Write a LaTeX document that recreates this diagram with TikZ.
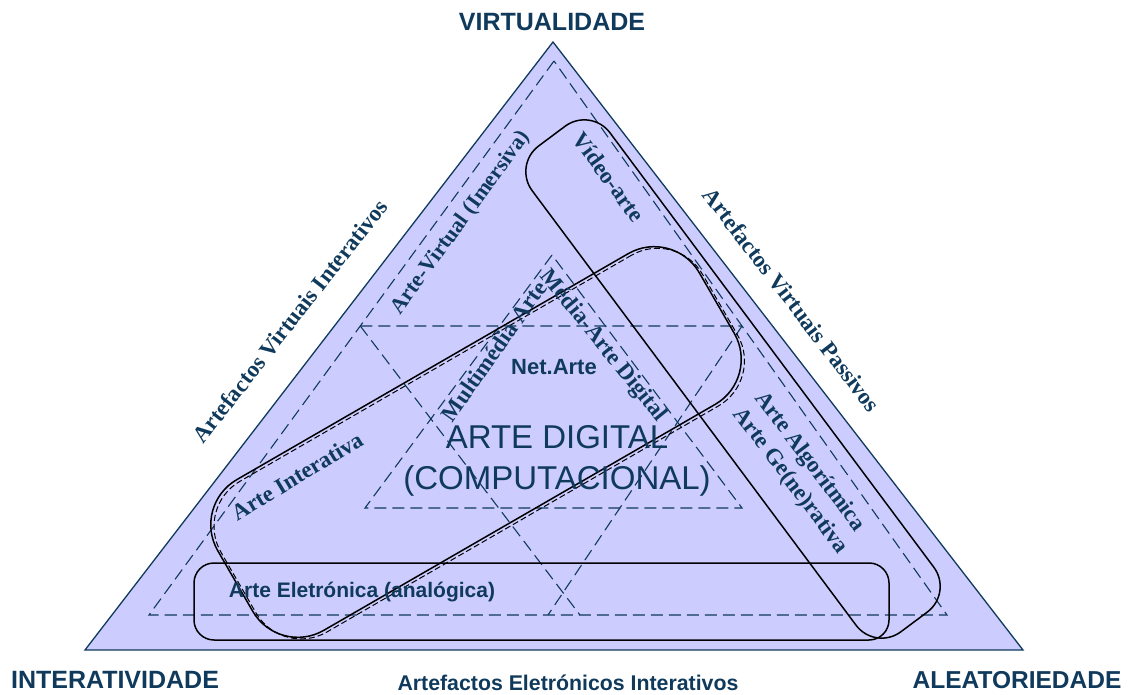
\documentclass[tikz,border=0pt]{standalone}
\usepackage{fontspec}
\setmainfont{Liberation Serif}
\setsansfont{Liberation Sans}
\usetikzlibrary{calc}
\definecolor{navy}{RGB}{16,58,92}
\definecolor{lavender}{RGB}{204,204,255}
\newcommand{\zonew}{1.1pt}
\newcommand{\blobw}{1.5pt}

\begin{document}
\begin{tikzpicture}[x=1pt,y=-1pt,
    zone/.style={draw=navy, line width=\zonew, dash pattern=on 12pt off 6pt},
    blob/.style={draw=black, line width=\blobw, rounded corners=#1, inner sep=0pt},
    shade/.style={draw=black, line width=1pt, dash pattern=on 6pt off 3pt, rounded corners=#1, inner sep=0pt},
    pole/.style={text=navy, font=\sffamily\bfseries\fontsize{25}{25}\selectfont},
    side/.style={text=navy, font=\rmfamily\bfseries\fontsize{23}{23}\selectfont},
    kind/.style={text=navy, font=\rmfamily\bfseries\fontsize{23}{27}\selectfont},
    core/.style={text=navy, font=\sffamily\fontsize{33}{41}\selectfont, align=center}]
                %\draw[help lines] (0,0) grid[step=50] (1128,695);
                \useasboundingbox (0,0) rectangle (1128,695);
                % the big triangle
                \coordinate (vir) at (553,42);
                \coordinate (int) at (85,650);
                \coordinate (ale) at (1023,650);
                \filldraw[fill=lavender, draw=navy, line width=1.3pt] (vir) -- (int) -- (ale) -- cycle;
                % dashed zones
                \coordinate (dv) at (554,61);
                \coordinate (di) at (149,615);
                \coordinate (da) at (947,615);
                \draw[zone] (dv) -- (di) -- (da) -- cycle;
                \coordinate (hl) at (intersection of dv--di and 0,326--1128,326);
                \coordinate (hr) at (intersection of dv--da and 0,326--1128,326);
                \draw[zone] (hl) -- (hr);
                \draw[zone] (hl) -- (580,615);
                \draw[zone] (hr) -- (548,615);
                \coordinate (tv) at (552,255);
                \coordinate (tl) at (365,508);
                \coordinate (tr) at (742,508);
                \draw[zone] (tv) -- (tl) -- (tr) -- cycle;
                % rounded groups
                \node[blob=20pt, minimum width=695pt, minimum height=77pt] (elet) at (541.5,601.5) {};
                \node[blob=32pt, minimum width=606pt, minimum height=97pt, rotate=-53.3] (algo) at (733,379) {};
                \node[shade=52pt, minimum width=556pt, minimum height=174pt, rotate=30, xshift=2pt, yshift=-3pt] (intersh) at (476,442) {};
                \node[blob=52pt, minimum width=556pt, minimum height=174pt, rotate=30] (inter) at (476,442) {};
                % poles
                \node[pole] (lvir) at (552,22) {VIRTUALIDADE};
                \node[pole] (lint) at (115,680) {INTERATIVIDADE};
                \node[pole, font=\sffamily\bfseries\fontsize{24.5}{25}\selectfont] (lale) at (1017,680) {ALEATORIEDADE};
                % sides
                \node[side, rotate=52] (sint) at (290,321) {Artefactos Virtuais Interativos};
                \node[side, rotate=-52.5] (spas) at (792,300) {Artefactos Virtuais Passivos};
                \node[text=navy, font=\sffamily\bfseries\fontsize{21.3}{22}\selectfont] (sele) at (568,683) {Artefactos Eletrónicos Interativos};
                % kinds of art
                \node[kind, font=\rmfamily\bfseries\fontsize{22}{22}\selectfont, rotate=54] (kvir) at (461,223) {Arte-Virtual (Imersiva)};
                \node[kind, rotate=-54] (kvid) at (609,177) {Vídeo-arte};
                \node[kind, rotate=31] (kint) at (297,476) {Arte Interativa};
                \node[kind, rotate=55] (kmul) at (494,351) {Multimédia Arte};
                \node[kind, rotate=-51] (kmed) at (603,346) {Média-Arte Digital};
                \node[kind, rotate=-53, align=left] (kalg) at (801,473) {Arte Algorítmica\\Arte Ge(ne)rativa};
                \node[text=navy, font=\sffamily\bfseries\fontsize{22}{22}\selectfont] (knet) at (554,367) {Net.Arte};
                \node[core] (kdig) at (557,461) {ARTE DIGITAL\\(COMPUTACIONAL)};
                \node[text=navy, font=\sffamily\bfseries\fontsize{21}{21}\selectfont] (kele) at (362,592) {Arte Eletrónica (analógica)};
        \end{tikzpicture}
\end{document}
